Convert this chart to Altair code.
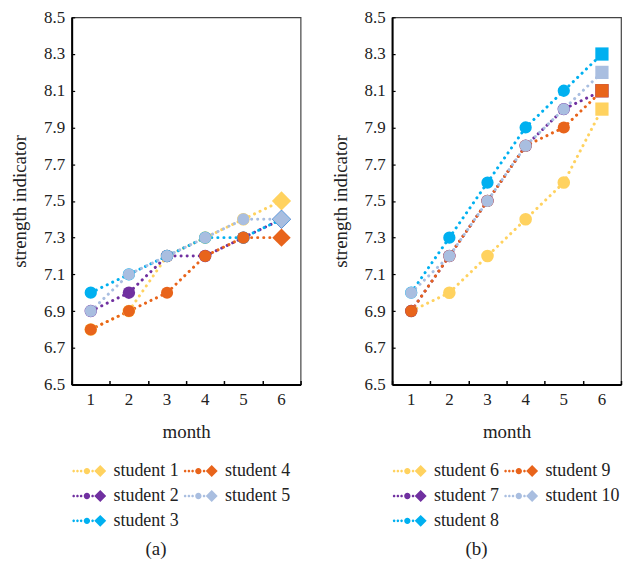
import altair as alt
import pandas as pd

FONT = "Liberation Serif"

months = [1, 2, 3, 4, 5, 6]
y_ticks = [6.5, 6.7, 6.9, 7.1, 7.3, 7.5, 7.7, 7.9, 8.1, 8.3, 8.5]

# panel (a)
students_a = ["student 1", "student 2", "student 3", "student 4", "student 5"]
student_1 = [6.8, 6.9, 7.2, 7.3, 7.4, 7.5]
student_2 = [6.9, 7.0, 7.2, 7.2, 7.3, 7.4]
student_3 = [7.0, 7.1, 7.2, 7.3, 7.3, 7.4]
student_4 = [6.8, 6.9, 7.0, 7.2, 7.3, 7.3]
student_5 = [6.9, 7.1, 7.2, 7.3, 7.4, 7.4]

# panel (b)
students_b = ["student 6", "student 7", "student 8", "student 9", "student 10"]
student_6 = [6.9, 7.0, 7.2, 7.4, 7.6, 8.0]
student_7 = [6.9, 7.2, 7.5, 7.8, 8.0, 8.1]
student_8 = [7.0, 7.3, 7.6, 7.9, 8.1, 8.3]
student_9 = [6.9, 7.2, 7.5, 7.8, 7.9, 8.1]
student_10 = [7.0, 7.2, 7.5, 7.8, 8.0, 8.2]

colors = ["#FFD25F", "#7030A0", "#00B0F0", "#E8641B", "#A9BEE0"]

W, H = 230, 369

# legend symbol: dotted line, circle, dot, diamond
def circ(cx, r):
    return f"M{cx - r},0A{r},{r} 0 1,0 {cx + r},0A{r},{r} 0 1,0 {cx - r},0Z"

LEG_PATH = (
    circ(-0.8, 0.13) + circ(-0.42, 0.13) + circ(-0.05, 0.13)
    + circ(0.53, 0.32) + circ(1.1, 0.13)
    + "M1.27,0L1.87,-0.6L2.47,0L1.87,0.6Z"
)


def panel(students, series, caption, last_shape, circle_sizes, last_sizes):
    rows = []
    for name, vals in zip(students, series):
        for m, v in zip(months, vals):
            rows.append({"student": name, "month": m, "value": v})
    df = pd.DataFrame(rows)
    # legend order is column-major in the reference
    order = [students[0], students[3], students[1], students[4], students[2]]
    ocol = [colors[0], colors[3], colors[1], colors[4], colors[2]]
    cscale = alt.Scale(domain=order, range=ocol)
    xscale = alt.Scale(paddingInner=0, paddingOuter=0)
    yscale = alt.Scale(domain=[6.5, 8.5], nice=False, zero=False)

    base = alt.Chart(df)
    lines = base.mark_line(
        strokeWidth=3, strokeDash=[0.1, 6], strokeCap="round"
    ).encode(
        x=alt.X("month:O", scale=xscale, axis=alt.Axis(
            orient="bottom", title="month", labelAngle=0, ticks=False,
            domainColor="black", domainWidth=2, labelPadding=7,
            titlePadding=15, grid=False)),
        y=alt.Y("value:Q", scale=yscale, axis=alt.Axis(
            orient="left", title="strength indicator", values=y_ticks,
            format=".1f", ticks=False, domainColor="black", domainWidth=2,
            labelPadding=7, titlePadding=14, grid=False)),
        color=alt.Color("student:N", scale=cscale, legend=None),
        detail="student:N",
    )
    circles = base.transform_filter("datum.month < 6").mark_point(
        filled=True, opacity=1, shape="circle"
    ).encode(
        x=alt.X("month:O", scale=xscale, axis=alt.Axis(
            orient="top", offset=-H, labels=False, domain=False, ticks=True,
            tickSize=4, tickBand="extent", tickColor="black", tickWidth=1.5,
            title=None, grid=False, minExtent=0, maxExtent=0)),
        y=alt.Y("value:Q", scale=yscale, axis=alt.Axis(
            orient="right", offset=-W, labels=False, domain=False, ticks=True,
            tickSize=3, values=y_ticks, tickColor="black", tickWidth=1.2,
            title=None, grid=False, minExtent=0, maxExtent=0)),
        color=alt.Color("student:N", scale=cscale, legend=alt.Legend(
            orient="bottom", columns=2, title=None, symbolType=LEG_PATH,
            symbolSize=400, symbolStrokeWidth=0, symbolOpacity=1,
            labelFont=FONT, labelFontSize=18, labelColor="#222",
            labelOffset=22, rowPadding=6, columnPadding=4, offset=20,
            padding=0)),
        size=alt.Size("student:N", scale=alt.Scale(domain=students, range=circle_sizes), legend=None),
    )
    last = base.transform_filter("datum.month == 6").mark_point(
        filled=True, opacity=1, shape=last_shape
    ).encode(
        x=alt.X("month:O", scale=xscale, axis=None),
        y=alt.Y("value:Q", scale=yscale, axis=None),
        color=alt.Color("student:N", scale=cscale, legend=None),
        size=alt.Size("student:N", scale=alt.Scale(domain=students, range=last_sizes), legend=None),
    )
    return alt.layer(lines, circles, last).resolve_axis(
        x="independent", y="independent"
    ).resolve_scale(size="independent", color="independent").properties(
        width=W, height=H,
        title=alt.TitleParams(caption, orient="bottom", anchor="middle",
                              frame="bounds", fontSize=19, font=FONT,
                              fontWeight="normal", color="#222", offset=10),
    )


left = panel(students_a, [student_1, student_2, student_3, student_4, student_5],
             "(a)", "diamond", [160, 144, 137, 95, 95], [372, 330, 330, 256, 350])
right = panel(students_b, [student_6, student_7, student_8, student_9, student_10],
              "(b)", "square", [160, 144, 160, 85, 85], [177, 177, 177, 177, 177])

chart = alt.hconcat(left, right, spacing=28).resolve_scale(
    color="independent", size="independent"
).properties(
    padding={"top": -2, "left": 2, "right": 0, "bottom": 0}
).configure(font=FONT).configure_view(
    stroke="#444", strokeWidth=1.2
).configure_axis(
    labelFont=FONT, titleFont=FONT, labelFontSize=17, titleFontSize=19,
    labelColor="#222", titleColor="#222", titleFontWeight="normal"
).configure_legend(
    labelFont=FONT, labelFontSize=18, labelColor="#222"
).configure_title(font=FONT)

chart.save("out.html", embed_options={"renderer": "svg", "actions": False})
